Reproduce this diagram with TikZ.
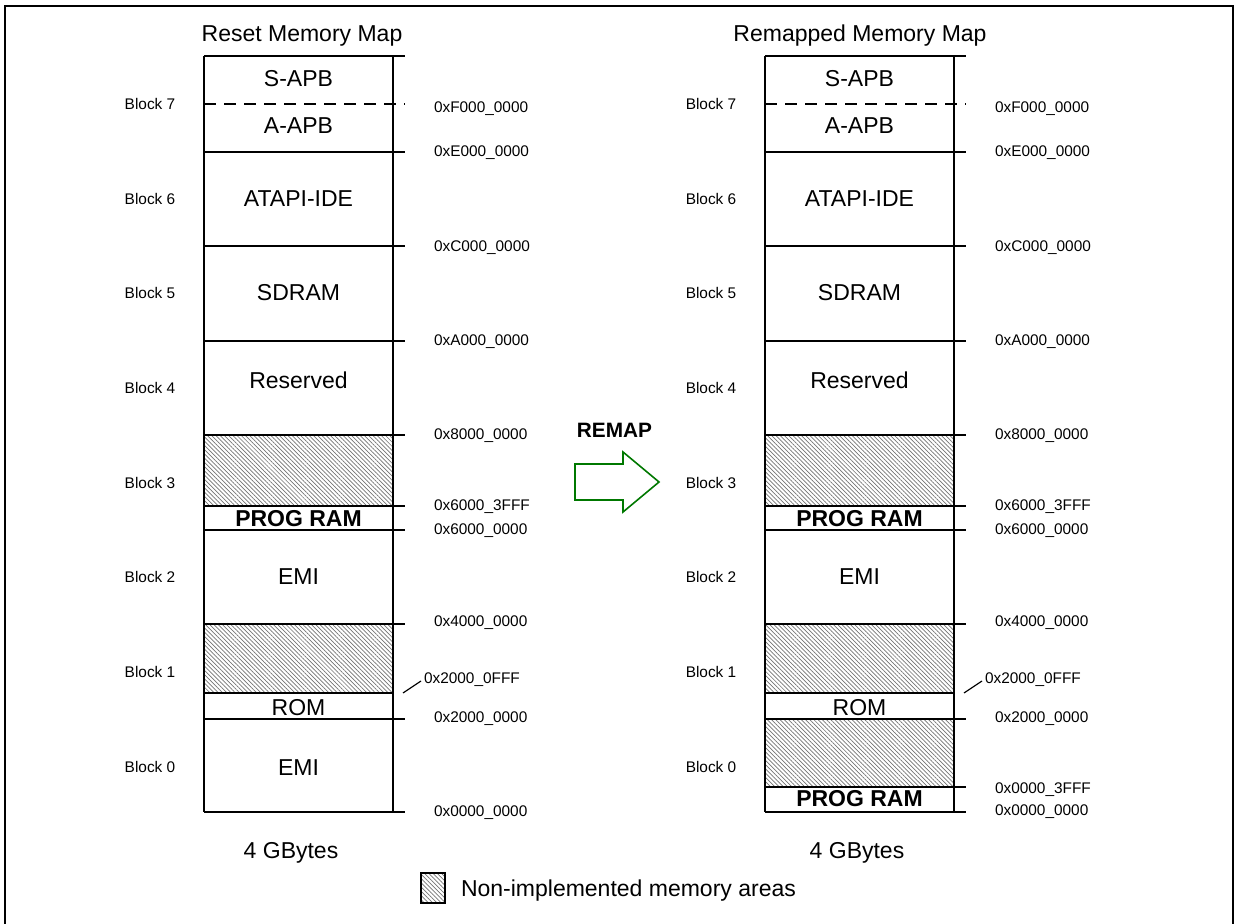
\documentclass[tikz,border=0pt]{standalone}
\usepackage{fontspec}
\setmainfont{Liberation Sans}
\usetikzlibrary{patterns.meta}
\definecolor{remapgreen}{RGB}{0,120,0}
\tikzset{
    bigtext/.style={font=\fontsize{11.5}{13}\selectfont, anchor=base, inner sep=0pt},
    smalltext/.style={font=\fontsize{7.7}{9}\selectfont, anchor=base, inner sep=0pt},
    addrtext/.style={smalltext, anchor=base west},
    hatched/.style={pattern={Lines[angle=-45, distance=1.5pt, line width=0.35pt]}, pattern color=black!55}
}

\begin{document}
\begin{tikzpicture}[x=0.5pt, y=-0.5pt, line width=1pt]
    \useasboundingbox (0,0) rectangle (1237,924);

    % Cornice
    \draw[line width=1.3pt] (5,6) rectangle (1233,932);

    % Titoli
    \node[bigtext] (titleL) at (302,42) {Reset Memory Map};
    \node[bigtext] (titleR) at (860,42) {Remapped Memory Map};
    \node[bigtext] (sizeL) at (291,858) {4 GBytes};
    \node[bigtext] (sizeR) at (857,858) {4 GBytes};

    % Blocco 0 della mappa rimappata
    \fill[hatched] (765,719) rectangle (954,787);
    \draw (765,787) -- (966,787);
    \node[bigtext, font=\fontsize{11.5}{13}\selectfont\bfseries] (progR0) at (859.5,806) {PROG RAM};
    \node[addrtext] (a3fffR0) at (994,793) {0x0000\_3FFF};
    \node[addrtext] (a0000R) at (994,815) {0x0000\_0000};

    % Blocco 0 della mappa di reset
    \node[bigtext] (emiL0) at (298.5,775) {EMI};
    \node[addrtext] (a0000L) at (433,816) {0x0000\_0000};

    % Parti comuni delle due mappe
    \foreach \dx/\m in {0/L, 561/R} {
        \begin{scope}[xshift=\dx*0.5pt]
            % Aree non implementate
            \fill[hatched] (204,435) rectangle (393,506);
            \fill[hatched] (204,624) rectangle (393,693);

            % Contorno e divisioni
            \draw (204,56) -- (204,812);
            \draw (393,56) -- (393,812);
            \foreach \y in {56,152,246,341,435,506,530,624,719,812}
                \draw (204,\y) -- (405,\y);
            \draw[dash pattern=on 6pt off 4pt] (204,104) -- (405,104);
            \draw (204,693) -- (393,693);
            \draw[line width=0.6pt] (403,693) -- (421,681);

            % Contenuto dei blocchi
            \node[bigtext] (sapb\m) at (298.5,87) {S-APB};
            \node[bigtext] (aapb\m) at (298.5,134) {A-APB};
            \node[bigtext] (ide\m) at (298.5,207) {ATAPI-IDE};
            \node[bigtext] (sdram\m) at (298.5,301) {SDRAM};
            \node[bigtext] (resv\m) at (298.5,389) {Reserved};
            \node[bigtext, font=\fontsize{11.5}{13}\selectfont\bfseries] (prog\m) at (298.5,527) {PROG RAM};
            \node[bigtext] (emi\m) at (298.5,585) {EMI};
            \node[bigtext] (rom\m) at (298.5,715) {ROM};

            % Numeri di blocco
            \foreach \n/\y in {7/109.5, 6/204.5, 5/298.5, 4/393.5, 3/488.5, 2/582.5, 1/677.5, 0/772.5}
                \node[smalltext] (blk\n\m) at (150,\y) {Block \n};

            % Indirizzi
            \foreach \a/\y in {0xF000\_0000/113, 0xE000\_0000/157, 0xC000\_0000/252,
                               0xA000\_0000/346, 0x8000\_0000/440, 0x6000\_3FFF/511,
                               0x6000\_0000/535, 0x4000\_0000/626, 0x2000\_0000/722}
                \node[addrtext] (addr\y\m) at (433,\y) {\a};
            \node[addrtext] (addrfff\m) at (423,683) {0x2000\_0FFF};
        \end{scope}
    }

    % Freccia REMAP
    \node[bigtext, font=\fontsize{10.4}{12}\selectfont\bfseries] (remap) at (614.5,438) {REMAP};
    \draw[remapgreen, line width=0.8pt, line join=miter]
        (575,464) -- (623,464) -- (623,452) -- (659,482) -- (623,512) -- (623,500) -- (575,500) -- cycle;

    % Legenda
    \draw[hatched, line width=1.2pt] (421,873) rectangle (445,903);
    \node[bigtext, anchor=base west] (legend) at (460,896) {Non-implemented memory areas};
\end{tikzpicture}
\end{document}
